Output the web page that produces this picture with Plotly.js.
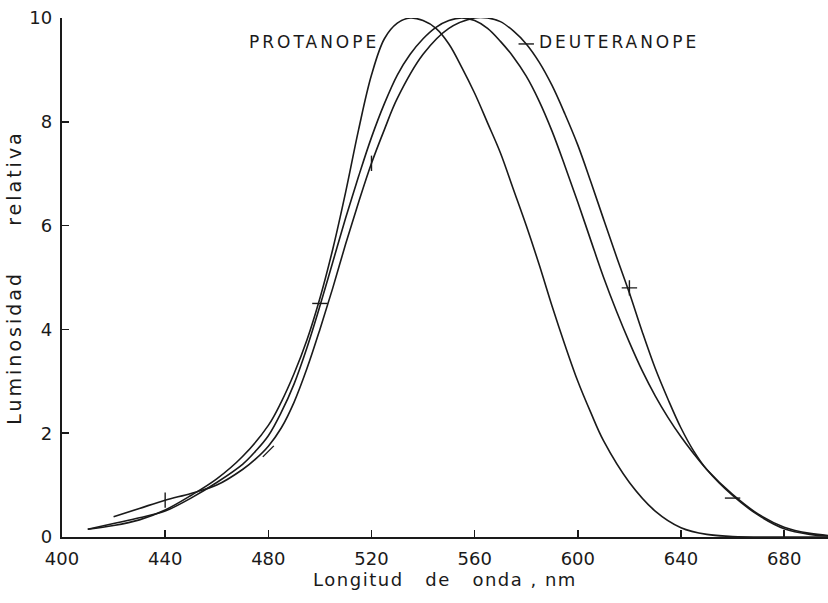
<!DOCTYPE html>
<html>
<head>
<meta charset="utf-8">
<script src="https://cdn.plot.ly/plotly-3.0.1.min.js"></script>
<style>html,body{margin:0;padding:0;background:#fff;}#chart{width:828px;height:603px;}</style>
</head>
<body>
<div id="chart"></div>
<script>
// Wavelengths (nm) and relative luminosity values
const protanopeX = [410,420,430,440,450,460,470,480,485,490,495,500,505,510,515,520,525,530,535,540,545,550,555,560,565,570,575,580,585,590,595,600,605,610,620,630,640,650,660,680,697];
const protanopeY = [0.15,0.22,0.33,0.52,0.8,1.12,1.55,2.15,2.6,3.15,3.8,4.6,5.55,6.65,7.85,8.9,9.6,9.9,10.0,9.95,9.8,9.5,9.05,8.55,7.98,7.4,6.7,6.0,5.25,4.45,3.7,3.0,2.4,1.85,1.05,0.5,0.18,0.05,0.01,0.0,0.0];

const normalX = [410,420,430,440,450,460,470,475,480,485,490,495,500,505,510,515,520,525,530,535,540,545,550,555,560,565,570,575,580,585,590,595,600,605,610,615,620,625,630,635,640,645,650,660,670,680,690,697];
const normalY = [0.15,0.26,0.37,0.5,0.75,1.05,1.4,1.65,1.95,2.4,2.95,3.65,4.45,5.3,6.15,6.95,7.7,8.35,8.9,9.3,9.6,9.82,9.95,10.0,9.95,9.8,9.55,9.25,8.88,8.4,7.82,7.15,6.45,5.72,5.0,4.35,3.75,3.2,2.72,2.3,1.93,1.6,1.3,0.82,0.44,0.19,0.07,0.03];

const deuteranopeX = [420,430,440,450,460,470,475,480,485,490,495,500,505,510,515,520,525,530,540,550,560,565,570,575,580,585,590,595,600,605,610,615,620,625,630,635,640,645,650,660,670,680,690,697];
const deuteranopeY = [0.39,0.55,0.71,0.84,1.0,1.3,1.5,1.75,2.1,2.6,3.25,4.0,4.8,5.65,6.45,7.2,7.85,8.45,9.3,9.8,10.0,10.0,9.93,9.75,9.5,9.15,8.7,8.15,7.55,6.85,6.12,5.4,4.7,3.95,3.25,2.65,2.1,1.65,1.3,0.8,0.42,0.16,0.05,0.02];

// small marks drawn on the curves
const markX = [440,480,500,520,580,620,660];
const markY = [0.71,1.65,4.5,7.2,9.5,4.8,0.75];

const xTickVals = [400,440,480,520,560,600,640,680];
const xTickText = ['400','440','480','520','560','600','640','680'];
const yTickVals = [0,2,4,6,8,10];
const yTickText = ['0','2','4','6','8','10'];

const xTitle = 'Longitud\u00a0\u00a0\u00a0de\u00a0\u00a0\u00a0onda\u00a0,\u00a0nm';
const yTitle = 'Luminosidad\u00a0\u00a0\u00a0\u00a0\u00a0relativa';
const labelProtanope = 'PROTANOPE';
const labelDeuteranope = 'DEUTERANOPE';

const lineStyle = {color: '#1a1a1a', width: 1.6, shape: 'spline', smoothing: 1};

const traces = [
  {x: protanopeX, y: protanopeY, type: 'scatter', mode: 'lines', name: 'Protanope', line: lineStyle, hoverinfo: 'x+y+name'},
  {x: normalX, y: normalY, type: 'scatter', mode: 'lines', name: 'Normal', line: lineStyle, hoverinfo: 'x+y+name'},
  {x: deuteranopeX, y: deuteranopeY, type: 'scatter', mode: 'lines', name: 'Deuteranope', line: lineStyle, hoverinfo: 'x+y+name'},
  {x: markX, y: markY, type: 'scatter', mode: 'markers', name: 'marcas', hoverinfo: 'skip',
   marker: {symbol: ['line-ns','line-ne','line-ew','line-ns','line-ew','cross-thin','line-ew'], size: 11,
            color: '#1a1a1a', line: {color: '#1a1a1a', width: 1.4}}}
];

const spaced = (t, s) => '<span style="letter-spacing:' + s + 'px">' + t + '</span>';

const layout = {
  width: 828, height: 603,
  margin: {l: 62, r: 0, t: 18, b: 66, pad: 0},
  paper_bgcolor: '#ffffff', plot_bgcolor: '#ffffff',
  showlegend: false,
  font: {family: 'DejaVu Sans, sans-serif', color: '#1a1a1a', size: 17},
  xaxis: {
    range: [400, 697], tickmode: 'array', tickvals: xTickVals, ticktext: xTickText,
    ticks: 'inside', ticklen: 7, tickwidth: 1.5, tickcolor: '#1a1a1a',
    showline: true, linewidth: 2.2, linecolor: '#1a1a1a',
    showgrid: false, zeroline: false, ticklabelstandoff: 4,
    tickfont: {size: 18},
    title: {text: spaced(xTitle, 1.5), font: {size: 18}, standoff: 6}
  },
  yaxis: {
    range: [0, 10], tickmode: 'array', tickvals: yTickVals, ticktext: yTickText,
    ticks: 'inside', ticklen: 7, tickwidth: 1.5, tickcolor: '#1a1a1a',
    showline: true, linewidth: 2.2, linecolor: '#1a1a1a',
    showgrid: false, zeroline: false, ticklabelstandoff: 4,
    tickfont: {size: 18},
    title: {text: spaced(yTitle, 3), font: {size: 19}, standoff: 3}
  },
  annotations: [
    {x: 523.5, y: 9.53, xref: 'x', yref: 'y', text: spaced(labelProtanope, 3), showarrow: false,
     xanchor: 'right', yanchor: 'middle', font: {size: 17}},
    {x: 584, y: 9.53, xref: 'x', yref: 'y', text: spaced(labelDeuteranope, 3), showarrow: false,
     xanchor: 'left', yanchor: 'middle', font: {size: 17}}
  ]
};

Plotly.newPlot('chart', traces, layout, {displayModeBar: false, staticPlot: true});
</script>
</body>
</html>
